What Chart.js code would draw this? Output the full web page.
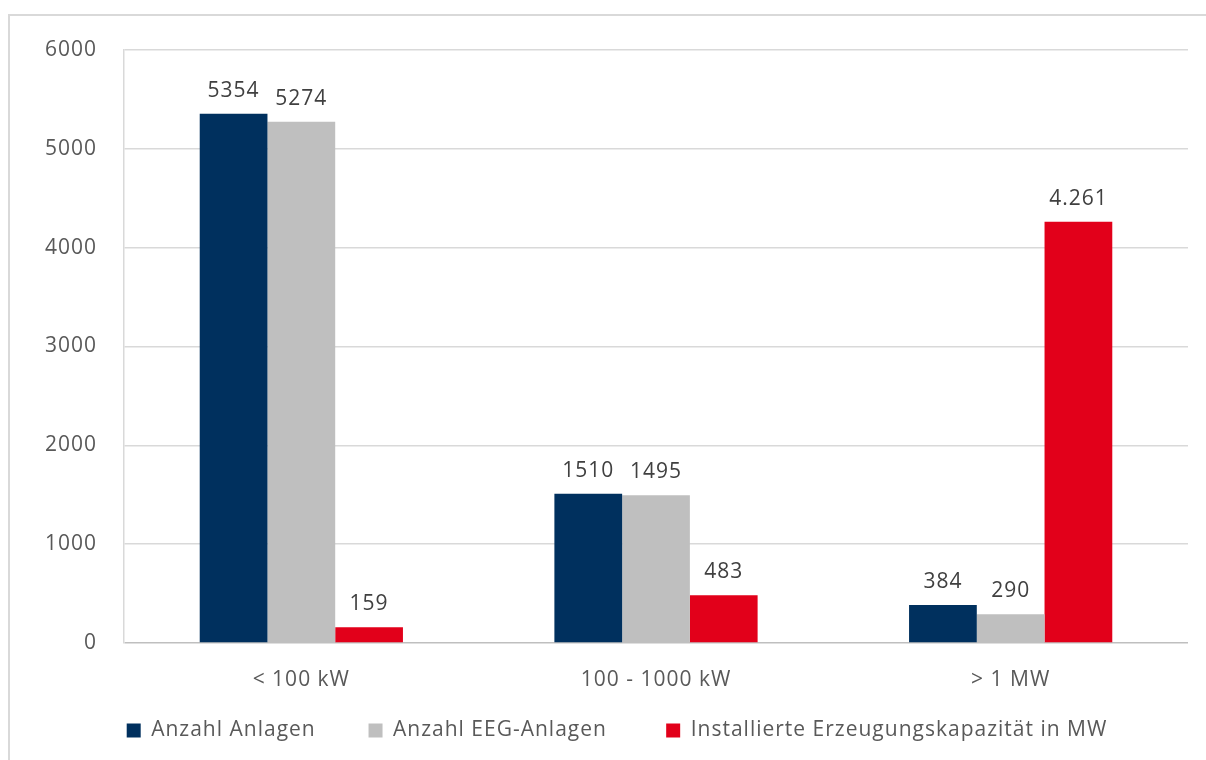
<!DOCTYPE html>
<html>
<head>
<meta charset="utf-8">
<script src="https://cdn.jsdelivr.net/npm/chart.js@4/dist/chart.umd.min.js"></script>
<style>
  html, body { margin: 0; padding: 0; background: #fff; overflow: hidden; }
  #wrap { position: relative; width: 1206px; height: 760px; }
  #frame { position: absolute; left: 8px; top: 14px; width: 1300px; height: 800px; border: 2px solid #d9d9d9; box-sizing: border-box; }
  #c { position: absolute; left: 0; top: 0; }
</style>
</head>
<body>
<div id="wrap">
  <div id="frame"></div>
  <canvas id="c" width="1206" height="760"></canvas>
</div>
<script>
// data
let categories = ['< 100 kW', '100 - 1000 kW', '> 1 MW'];
let anzahlAnlagen = [5354, 1510, 384];
let anzahlEEG = [5274, 1495, 290];
let kapazitaetMW = [159, 483, 4261];
let seriesNames = ['Anzahl Anlagen', 'Anzahl EEG-Anlagen', 'Installierte Erzeugungskapazität in MW'];
let yTicks = [0, 1000, 2000, 3000, 4000, 5000, 6000];

const FONT = "'Open Sans', sans-serif";
const SIZE = 21;
const SPACING = '1px';
// extra room after each legend entry (excel spaces them wider than chart.js)
const legendGap = ['    ', '     ', ''];
const legendShift = 23;

// german thousands separator, only used on the capacity series
function deFormat(v) {
    if (v < 1000) return String(v);
    var rest = String(v % 1000);
    while (rest.length < 3) rest = '0' + rest;
    return Math.floor(v / 1000) + '.' + rest;
}

const spacingPlugin = {
    id: 'spacing',
    beforeUpdate: (chart) => { chart.ctx.letterSpacing = SPACING; },
    beforeLayout: (chart) => { chart.ctx.letterSpacing = SPACING; },
    afterLayout: (chart) => {
        // legend sits a little right of the plot centre in the original
        if (chart.legend) {
            chart.legend.left += legendShift;
            chart.legend.right += legendShift;
        }
    },
    beforeDraw: (chart) => { chart.ctx.letterSpacing = SPACING; }
};

const valueLabels = {
    id: 'valueLabels',
    afterDatasetsDraw: (chart) => {
        var ctx = chart.ctx;
        ctx.save();
        ctx.font = SIZE + 'px ' + FONT;
        ctx.letterSpacing = SPACING;
        ctx.fillStyle = '#404040';
        ctx.textAlign = 'center';
        ctx.textBaseline = 'alphabetic';
        chart.data.datasets.forEach((ds, di) => {
            var meta = chart.getDatasetMeta(di);
            meta.data.forEach((bar, i) => {
                var v = ds.data[i];
                var txt = di == 2 ? deFormat(v) : String(v);
                ctx.fillText(txt, bar.x, bar.y - 17);
            });
        });
        ctx.restore();
    }
};

var ctx = document.getElementById('c').getContext('2d');

var chart = new Chart(ctx, {
    type: 'bar',
    data: {
        labels: categories,
        datasets: [
            { label: seriesNames[0], data: anzahlAnlagen, backgroundColor: '#00305e' },
            { label: seriesNames[1], data: anzahlEEG, backgroundColor: '#bfbfbf' },
            { label: seriesNames[2], data: kapazitaetMW, backgroundColor: '#e2001a' }
        ]
    },
    options: {
        responsive: false,
        animation: false,
        devicePixelRatio: 1,
        layout: { padding: { left: 0, top: 50, right: 18, bottom: 9 } },
        datasets: { bar: { categoryPercentage: 0.573, barPercentage: 1.0, borderWidth: 0 } },
        plugins: {
            tooltip: { enabled: false },
            legend: {
                position: 'bottom',
                labels: {
                    boxWidth: 14,
                    boxHeight: 14,
                    padding: 27,
                    color: '#595959',
                    font: { family: FONT, size: SIZE },
                    generateLabels: (chart) => {
                        var items = Chart.defaults.plugins.legend.labels.generateLabels(chart);
                        items.forEach((it, i) => { it.text = it.text + legendGap[i]; });
                        return items;
                    }
                }
            }
        },
        scales: {
            x: {
                grid: { display: false, drawTicks: false },
                border: { display: false },
                ticks: { color: '#595959', padding: 24, font: { family: FONT, size: SIZE } },
                afterFit: (scale) => { scale.height = 50; }
            },
            y: {
                min: 0,
                max: 6000,
                afterBuildTicks: (scale) => { scale.ticks = yTicks.map(v => ({ value: v })); },
                grid: {
                    drawTicks: false,
                    color: (c) => c.tick && c.tick.value == 0 ? '#bfbfbf' : '#d9d9d9',
                    lineWidth: 1.5
                },
                border: { display: true, color: '#d9d9d9', width: 1.5 },
                ticks: {
                    color: '#595959',
                    padding: 27,
                    font: { family: FONT, size: SIZE },
                    callback: (v) => String(v)
                },
                afterFit: (scale) => { scale.width = 124; }
            }
        }
    },
    plugins: [spacingPlugin, valueLabels]
});
</script>
</body>
</html>
